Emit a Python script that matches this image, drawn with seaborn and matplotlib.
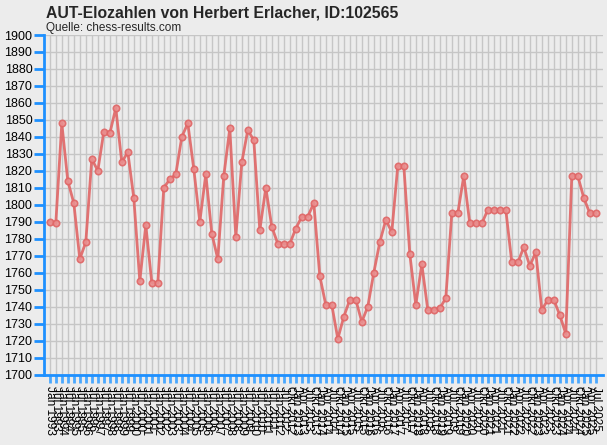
import matplotlib
matplotlib.use("Agg")
import matplotlib.pyplot as plt
import seaborn as sns
import pandas as pd

# Rating lists (x axis labels)
LABELS = [
    "Jan 1993", "Jul 1993", "Jan 1994", "Jul 1994", "Jan 1995", "Jul 1995",
    "Jan 1996", "Jul 1996", "Jan 1997", "Jul 1997", "Jan 1998", "Jul 1998",
    "Jan 1999", "Jul 1999", "Jan 2000", "Jul 2000", "Jan 2001", "Jul 2001",
    "Jan 2002", "Jul 2002", "Jan 2003", "Jul 2003", "Jan 2004", "Jul 2004",
    "Jan 2005", "Jul 2005", "Jan 2006", "Jul 2006", "Jan 2007", "Jul 2007",
    "Jan 2008", "Jul 2008", "Jan 2009", "Jul 2009", "Jan 2010", "Jul 2010",
    "Jan 2011", "Jul 2011", "Jan 2012", "Jul 2012", "Okt 2012",
    "Jan 2013", "Apr 2013", "Jul 2013", "Okt 2013",
    "Jan 2014", "Apr 2014", "Jul 2014", "Okt 2014",
    "Jan 2015", "Apr 2015", "Jul 2015", "Okt 2015",
    "Jan 2016", "Apr 2016", "Jul 2016", "Okt 2016",
    "Jan 2017", "Apr 2017", "Jul 2017", "Okt 2017",
    "Jan 2018", "Apr 2018", "Jul 2018", "Okt 2018",
    "Jan 2019", "Apr 2019", "Jul 2019", "Okt 2019",
    "Jan 2020", "Apr 2020", "Jul 2020", "Okt 2020",
    "Jan 2021", "Apr 2021", "Jul 2021", "Okt 2021",
    "Jan 2022", "Apr 2022", "Jul 2022", "Okt 2022",
    "Jan 2023", "Apr 2023", "Jul 2023", "Okt 2023",
    "Jan 2024", "Apr 2024", "Jul 2024", "Okt 2024",
    "Jan 2025", "Apr 2025", "Jul 2025",
]

ELO = [
    1790, 1789, 1848, 1814, 1801, 1768, 1778, 1827, 1820, 1843,
    1842, 1857, 1825, 1831, 1804, 1755, 1788, 1754, 1754, 1810,
    1815, 1818, 1840, 1848, 1821, 1790, 1818, 1783, 1768, 1817,
    1845, 1781, 1825, 1844, 1838, 1785, 1810, 1787, 1777, 1777,
    1777, 1786, 1793, 1793, 1801, 1758, 1741, 1741, 1721, 1734,
    1744, 1744, 1731, 1740, 1760, 1778, 1791, 1784, 1823, 1823,
    1771, 1741, 1765, 1738, 1738, 1739, 1745, 1795, 1795, 1817,
    1789, 1789, 1789, 1797, 1797, 1797, 1797, 1766, 1766, 1775,
    1764, 1772, 1738, 1744, 1744, 1735, 1724, 1817, 1817, 1804,
    1795, 1795,
]

Y_TICKS = list(range(1700, 1901, 10))

BG = "#ececec"
BLUE = "#1e90ff"
RED = "#e06666"

sns.set_style("whitegrid", {"axes.facecolor": BG, "figure.facecolor": BG,
                            "grid.color": "#c6c6c6"})
plt.rcParams["font.family"] = ["Liberation Sans", "DejaVu Sans"]

df = pd.DataFrame({"idx": range(len(ELO)), "elo": ELO})

fig = plt.figure(figsize=(6.07, 4.45), dpi=100)
ax = fig.add_axes([43.5 / 607, 1 - 374.5 / 445, (603 - 43.5) / 607, (374.5 - 35) / 445])

sns.lineplot(data=df, x="idx", y="elo", ax=ax, color=RED, linewidth=2,
             marker="o", markersize=4.6, markerfacecolor="#ea9090",
             markeredgecolor=RED, markeredgewidth=1.2, alpha=0.9)

ax.set_xlim(-1.05, 92.2)
ax.set_ylim(1700, 1900)
ax.set_yticks(Y_TICKS)
ax.set_xticks(range(len(LABELS)))
ax.set_xticklabels(LABELS, rotation=270, fontsize=8.6)
ax.set_xlabel("")
ax.set_ylabel("")
ax.grid(True, color="#c6c6c6", linewidth=1)

for side in ["top", "right"]:
    ax.spines[side].set_visible(False)
for side in ["left", "bottom"]:
    ax.spines[side].set_color(BLUE)
    ax.spines[side].set_linewidth(2)

ax.tick_params(axis="y", left=True, colors=BLUE, labelcolor="black", length=7,
               width=2, labelsize=9, pad=1, direction="out")
ax.tick_params(axis="x", bottom=True, colors="#4aa8ff", labelcolor="black",
               length=6, width=2, pad=2, direction="out")

fig.text(46 / 607, 1 - 17 / 445, "AUT-Elozahlen von Herbert Erlacher, ID:102565",
         fontsize=11.3, fontweight="bold", va="baseline", ha="left")
fig.text(46 / 607, 1 - 31 / 445, "Quelle: chess-results.com",
         fontsize=8.5, va="baseline", ha="left")

fig.savefig("out.png", dpi=100, facecolor=BG)
